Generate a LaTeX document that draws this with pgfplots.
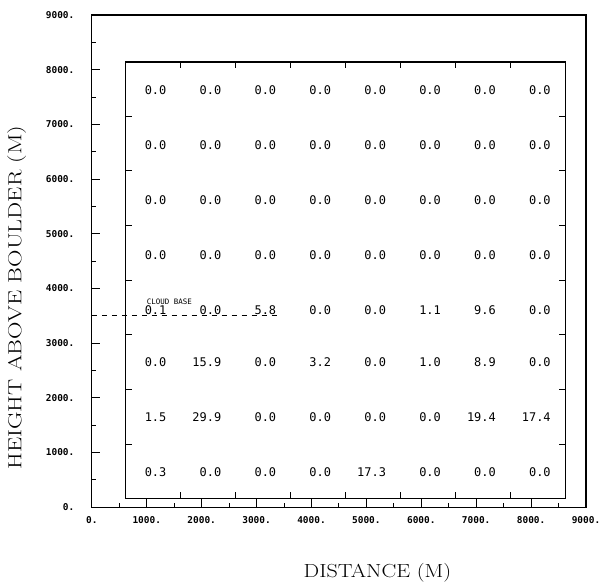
\documentclass[border=0pt]{standalone}
\usepackage{fontspec}
\usepackage{pgfplots}
\usepackage{pgfplotstable}
\pgfplotsset{compat=1.18}
\newfontfamily\monof{DejaVu Sans Mono}
\newfontfamily\labfx[FakeStretch=1.17]{Latin Modern Roman}
\newfontfamily\labfy[FakeStretch=1.28]{Latin Modern Roman}
\pgfplotstableread{
x y v
1360 7630 0.0
2360 7630 0.0
3360 7630 0.0
4360 7630 0.0
5360 7630 0.0
6360 7630 0.0
7360 7630 0.0
8360 7630 0.0
1360 6625 0.0
2360 6625 0.0
3360 6625 0.0
4360 6625 0.0
5360 6625 0.0
6360 6625 0.0
7360 6625 0.0
8360 6625 0.0
1360 5620 0.0
2360 5620 0.0
3360 5620 0.0
4360 5620 0.0
5360 5620 0.0
6360 5620 0.0
7360 5620 0.0
8360 5620 0.0
1360 4615 0.0
2360 4615 0.0
3360 4615 0.0
4360 4615 0.0
5360 4615 0.0
6360 4615 0.0
7360 4615 0.0
8360 4615 0.0
1360 3610 0.1
2360 3610 0.0
3360 3610 5.8
4360 3610 0.0
5360 3610 0.0
6360 3610 1.1
7360 3610 9.6
8360 3610 0.0
1360 2645 0.0
2360 2645 15.9
3360 2645 0.0
4360 2645 3.2
5360 2645 0.0
6360 2645 1.0
7360 2645 8.9
8360 2645 0.0
1360 1640 1.5
2360 1640 29.9
3360 1640 0.0
4360 1640 0.0
5360 1640 0.0
6360 1640 0.0
7360 1640 19.4
8360 1640 17.4
1360 640 0.3
2360 640 0.0
3360 640 0.0
4360 640 0.0
5360 640 17.3
6360 640 0.0
7360 640 0.0
8360 640 0.0
}\cells
\begin{document}
\begin{tikzpicture}
\begin{axis}[
  name=outer,
  scale only axis, width=495bp, height=493bp,
  xmin=0, xmax=9000, ymin=0, ymax=9000,
  xtick={0,1000,...,9000}, ytick={0,1000,...,9000},
  minor xtick={500,1500,...,8500}, minor ytick={500,1500,...,8500},
  xticklabels={0.,1000.,2000.,3000.,4000.,5000.,6000.,7000.,8000.,9000.},
  yticklabels={0.,1000.,2000.,3000.,4000.,5000.,6000.,7000.,8000.,9000.},
  tick align=inside, xtick pos=bottom, ytick pos=left,
  major tick length=8bp, minor tick length=4bp,
  axis line style={line width=1.2pt},
  every tick/.style={black, line width=0.9pt},
  ticklabel style={font=\monof\bfseries\fontsize{9.5}{10}\selectfont},
  yticklabel style={xshift=-14bp},
  xticklabel style={yshift=-6bp},
  xlabel={DISTANCE (M)}, ylabel={HEIGHT ABOVE BOULDER (M)},
  xlabel style={at={(axis description cs:0.578,-0.134)}, anchor=center, font=\labfx\fontsize{19}{23}\selectfont},
  ylabel style={at={(axis description cs:-0.152,0.426)}, anchor=center, font=\labfy\fontsize{19}{23}\selectfont},
  clip=false,
]
\addplot[black, line width=1pt, dash pattern=on 5bp off 5bp] coordinates {(0,3500) (3450,3500)};
\addplot[draw=none, mark=none, nodes near coords, point meta=explicit symbolic,
  every node near coord/.append style={anchor=east, inner sep=0pt, font=\monof\fontsize{12}{14}\selectfont}]
  table[x=x, y=y, meta=v]{\cells};
\node[anchor=base west, inner sep=0pt, font=\monof\fontsize{7.5}{8}\selectfont] at (axis cs:1000,3700) {CLOUD BASE};
\end{axis}
\begin{axis}[
  at={(34.1bp,8.76bp)}, anchor=south west,
  scale only axis, width=440bp, height=437.1bp,
  xmin=620, xmax=8620, ymin=160, ymax=8140,
  xtick={1620,2620,...,7620}, ytick={1150,2150,...,7150},
  xticklabels={}, yticklabels={},
  tick align=inside, major tick length=6bp,
  axis line style={line width=1.2pt},
  every tick/.style={black, line width=0.9pt},
]
\end{axis}
\pgfresetboundingbox
\path[use as bounding box] ([xshift=-92bp,yshift=-80bp]outer.south west) rectangle ([xshift=13bp,yshift=15bp]outer.north east);
\end{tikzpicture}
\end{document}
